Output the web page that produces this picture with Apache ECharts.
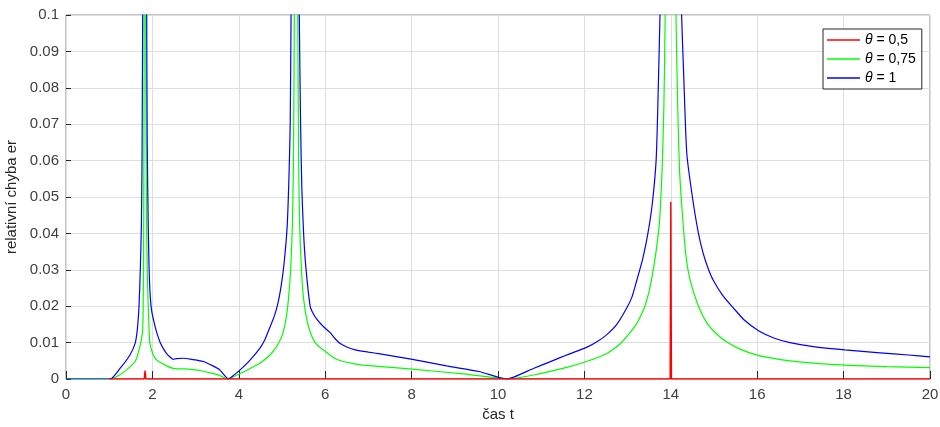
<!DOCTYPE html>
<html>
<head>
<meta charset="utf-8">
<script src="https://cdn.jsdelivr.net/npm/echarts@6/dist/echarts.min.js"></script>
<style>html,body{margin:0;padding:0;background:#fff}#c{width:940px;height:427px}</style>
</head>
<body>
<div id="c"></div>
<script>
// ---- data ----
var seriesNames = ['θ = 0,5', 'θ = 0,75', 'θ = 1'];

var tRed = [1, 1.81, 1.83, 1.85, 5.30, 5.32, 5.34, 13.985, 14.0, 14.015, 20];
var eRed = [0, 0, 0.0023, 0, 0, 0.0004, 0, 0, 0.0487, 0, 0];

var tGreen = [0, 1.0, 1.2, 1.4, 1.6, 1.71, 1.775, 1.79, 1.80, 1.81, 1.83, 1.845, 1.86, 1.88, 1.91, 1.94, 2.02, 2.10, 2.18, 2.33, 2.48, 2.60, 2.75, 2.95, 3.15, 3.33, 3.55, 3.75,
  4.03, 4.26, 4.49, 4.72, 4.85, 4.95, 5.03, 5.10, 5.15, 5.20, 5.24, 5.265, 5.285, 5.31, 5.33, 5.35, 5.365, 5.385, 5.41, 5.45, 5.50, 5.58, 5.68, 5.78, 5.90, 6.11, 6.25, 6.42, 6.65, 6.88, 8.02, 9.20, 9.97, 10.20,
  10.82, 11.59, 12.05, 12.52, 12.85, 13.20, 13.40, 13.55, 13.73, 13.80, 13.84, 13.87, 13.93, 13.995, 14.06, 14.12, 14.16, 14.20, 14.27, 14.35, 14.45, 14.64, 14.83, 15.05, 15.29, 15.60, 16.04, 16.50, 16.91, 18.03, 19.00, 20];
var eGreen = [0, 0, 0.0008, 0.0025, 0.0048, 0.0089, 0.0135, 0.0250, 0.0450, 0.1000, 0.2500, 0.1000, 0.0500, 0.0300, 0.0180, 0.0100, 0.0066, 0.0052, 0.0046, 0.0036, 0.0029, 0.0028, 0.0028, 0.0026, 0.0022, 0.0017, 0.0010, 0,
  0.0015, 0.0029, 0.0043, 0.0066, 0.0085, 0.0105, 0.0130, 0.0170, 0.0220, 0.0300, 0.0420, 0.0600, 0.1000, 0.2000, 0.2500, 0.2000, 0.1000, 0.0600, 0.0420, 0.0300, 0.0220, 0.0160, 0.0120, 0.0098, 0.0085, 0.0066, 0.0055, 0.0048, 0.0042, 0.0038, 0.0027, 0.0014, 0.0003, 0,
  0.0011, 0.0032, 0.0048, 0.0070, 0.0099, 0.0150, 0.0200, 0.0270, 0.0420, 0.0580, 0.0750, 0.1000, 0.1700, 0.2500, 0.1700, 0.1000, 0.0750, 0.0580, 0.0450, 0.0340, 0.0270, 0.0200, 0.0155, 0.0125, 0.0102, 0.0082, 0.0064, 0.0054, 0.0048, 0.0038, 0.0034, 0.0031];

var tBlue = [0, 1.02, 1.25, 1.48, 1.60, 1.65, 1.69, 1.72, 1.745, 1.76, 1.775, 1.80, 1.82, 1.84, 1.868, 1.88, 1.90, 1.92, 1.944, 1.98, 2.04, 2.10, 2.18, 2.26, 2.33, 2.40, 2.48, 2.55, 2.72, 2.90, 3.18, 3.40, 3.56, 3.76,
  3.90, 4.03, 4.26, 4.49, 4.60, 4.72, 4.82, 4.90, 4.98, 5.05, 5.12, 5.16, 5.19, 5.21, 5.25, 5.305, 5.35, 5.40, 5.43, 5.46, 5.50, 5.55, 5.65, 5.70, 5.80, 5.95, 6.11, 6.22, 6.34, 6.50, 6.69, 7.00, 7.27, 8.02, 8.81, 9.58, 10.20,
  10.82, 11.20, 11.59, 12.05, 12.30, 12.52, 12.75, 12.98, 13.10, 13.21, 13.35, 13.47, 13.57, 13.66, 13.70, 13.75, 13.85, 14.00, 14.15, 14.25, 14.30, 14.37, 14.50, 14.64, 14.75, 14.86, 14.98, 15.20, 15.45, 15.70, 16.04, 16.40, 16.76, 17.30, 18.03, 18.84, 19.50, 20];
var eBlue = [0, 0, 0.0029, 0.0066, 0.0098, 0.0135, 0.0200, 0.0300, 0.0420, 0.0600, 0.1000, 0.1800, 0.2500, 0.1800, 0.1000, 0.0650, 0.0450, 0.0320, 0.0240, 0.0190, 0.0155, 0.0128, 0.0100, 0.0082, 0.0070, 0.0061, 0.0054, 0.0056, 0.0057, 0.0054, 0.0048, 0.0036, 0.0025, 0,
  0.0012, 0.0025, 0.0052, 0.0085, 0.0107, 0.0142, 0.0172, 0.0205, 0.0255, 0.0320, 0.0420, 0.0550, 0.0700, 0.1000, 0.1500, 0.2500, 0.1600, 0.1000, 0.0700, 0.0520, 0.0400, 0.0310, 0.0200, 0.0185, 0.0165, 0.0145, 0.0128, 0.0112, 0.0098, 0.0088, 0.0080, 0.0074, 0.0069, 0.0054, 0.0036, 0.0020, 0,
  0.0029, 0.0047, 0.0066, 0.0087, 0.0103, 0.0122, 0.0150, 0.0195, 0.0225, 0.0270, 0.0330, 0.0400, 0.0480, 0.0600, 0.0750, 0.1000, 0.1500, 0.2500, 0.1500, 0.1000, 0.0830, 0.0620, 0.0500, 0.0400, 0.0345, 0.0305, 0.0272, 0.0230, 0.0195, 0.0162, 0.0132, 0.0112, 0.0100, 0.0089, 0.0080, 0.0072, 0.0066, 0.0061];

var xTicks = [0, 2, 4, 6, 8, 10, 12, 14, 16, 18, 20];
var yTicks = [0, 0.01, 0.02, 0.03, 0.04, 0.05, 0.06, 0.07, 0.08, 0.09, 0.1];
var xLabel = 'čas t';
var yLabel = 'relativní chyba er';

function pairs(xs, ys) { return xs.map(function (x, i) { return [x, ys[i]]; }); }

var FONT = '"Liberation Sans", Arial, sans-serif';
var chart = echarts.init(document.getElementById('c'), null, { renderer: 'canvas' });

chart.setOption({
  animation: false,
  backgroundColor: '#ffffff',
  grid: { left: 66, right: 10, top: 15, bottom: 48, show: true, borderColor: '#8a8a8a', borderWidth: 1,
    backgroundColor: '#ffffff', containLabel: false, outerBoundsMode: 'none' },
  legend: {
    data: seriesNames,
    orient: 'vertical',
    left: 823, top: 29,
    padding: [4, 6, 4, 4],
    itemGap: 5,
    icon: 'rect',
    itemWidth: 33, itemHeight: 1.5,
    backgroundColor: '#ffffff',
    borderColor: '#262626', borderWidth: 1, borderRadius: 0,
    formatter: function (n) { return '{it|θ}' + n.slice(1); },
    textStyle: { fontFamily: FONT, fontSize: 14, color: '#000', lineHeight: 14,
      rich: { it: { fontStyle: 'italic', fontFamily: FONT, fontSize: 14, color: '#000', lineHeight: 14 } } }
  },
  xAxis: {
    type: 'value', min: xTicks[0], max: xTicks[xTicks.length - 1], interval: 2,
    name: xLabel, nameLocation: 'middle', nameGap: 27,
    nameTextStyle: { fontFamily: FONT, fontSize: 15, color: '#262626' },
    axisLine: { show: false },
    axisTick: { show: true, inside: true, length: 8, lineStyle: { color: '#262626' } },
    axisLabel: { fontFamily: FONT, fontSize: 15, color: '#404040', margin: 8 },
    splitLine: { show: true, lineStyle: { color: '#dedede', width: 1 } }
  },
  yAxis: {
    type: 'value', min: yTicks[0], max: yTicks[yTicks.length - 1], interval: 0.01,
    name: yLabel, nameLocation: 'middle', nameGap: 40, nameRotate: 90,
    nameTextStyle: { fontFamily: FONT, fontSize: 15, color: '#262626' },
    axisLine: { show: false },
    axisTick: { show: true, inside: true, length: 5, lineStyle: { color: '#262626' } },
    axisLabel: { fontFamily: FONT, fontSize: 15, color: '#404040', margin: 7,
      formatter: function (v) { return String(parseFloat(v.toFixed(2))); } },
    splitLine: { show: true, lineStyle: { color: '#dedede', width: 1 } }
  },
  series: [
    { name: seriesNames[1], type: 'line', data: pairs(tGreen, eGreen), showSymbol: false, symbol: 'none', z: 2,
      smooth: 0.2,
      lineStyle: { color: '#00ff00', width: 1.2 }, itemStyle: { color: '#00ff00' }, clip: true },
    { name: seriesNames[2], type: 'line', data: pairs(tBlue, eBlue), showSymbol: false, symbol: 'none', z: 3,
      smooth: 0.2,
      lineStyle: { color: '#0000ff', width: 1.2 }, itemStyle: { color: '#0000ff' }, clip: true },
    { name: seriesNames[0], type: 'line', data: pairs(tRed, eRed), showSymbol: false, symbol: 'none', z: 4,
      lineStyle: { color: '#ff0000', width: 1.4 }, itemStyle: { color: '#ff0000' }, clip: true }
  ]
});
</script>
</body>
</html>
